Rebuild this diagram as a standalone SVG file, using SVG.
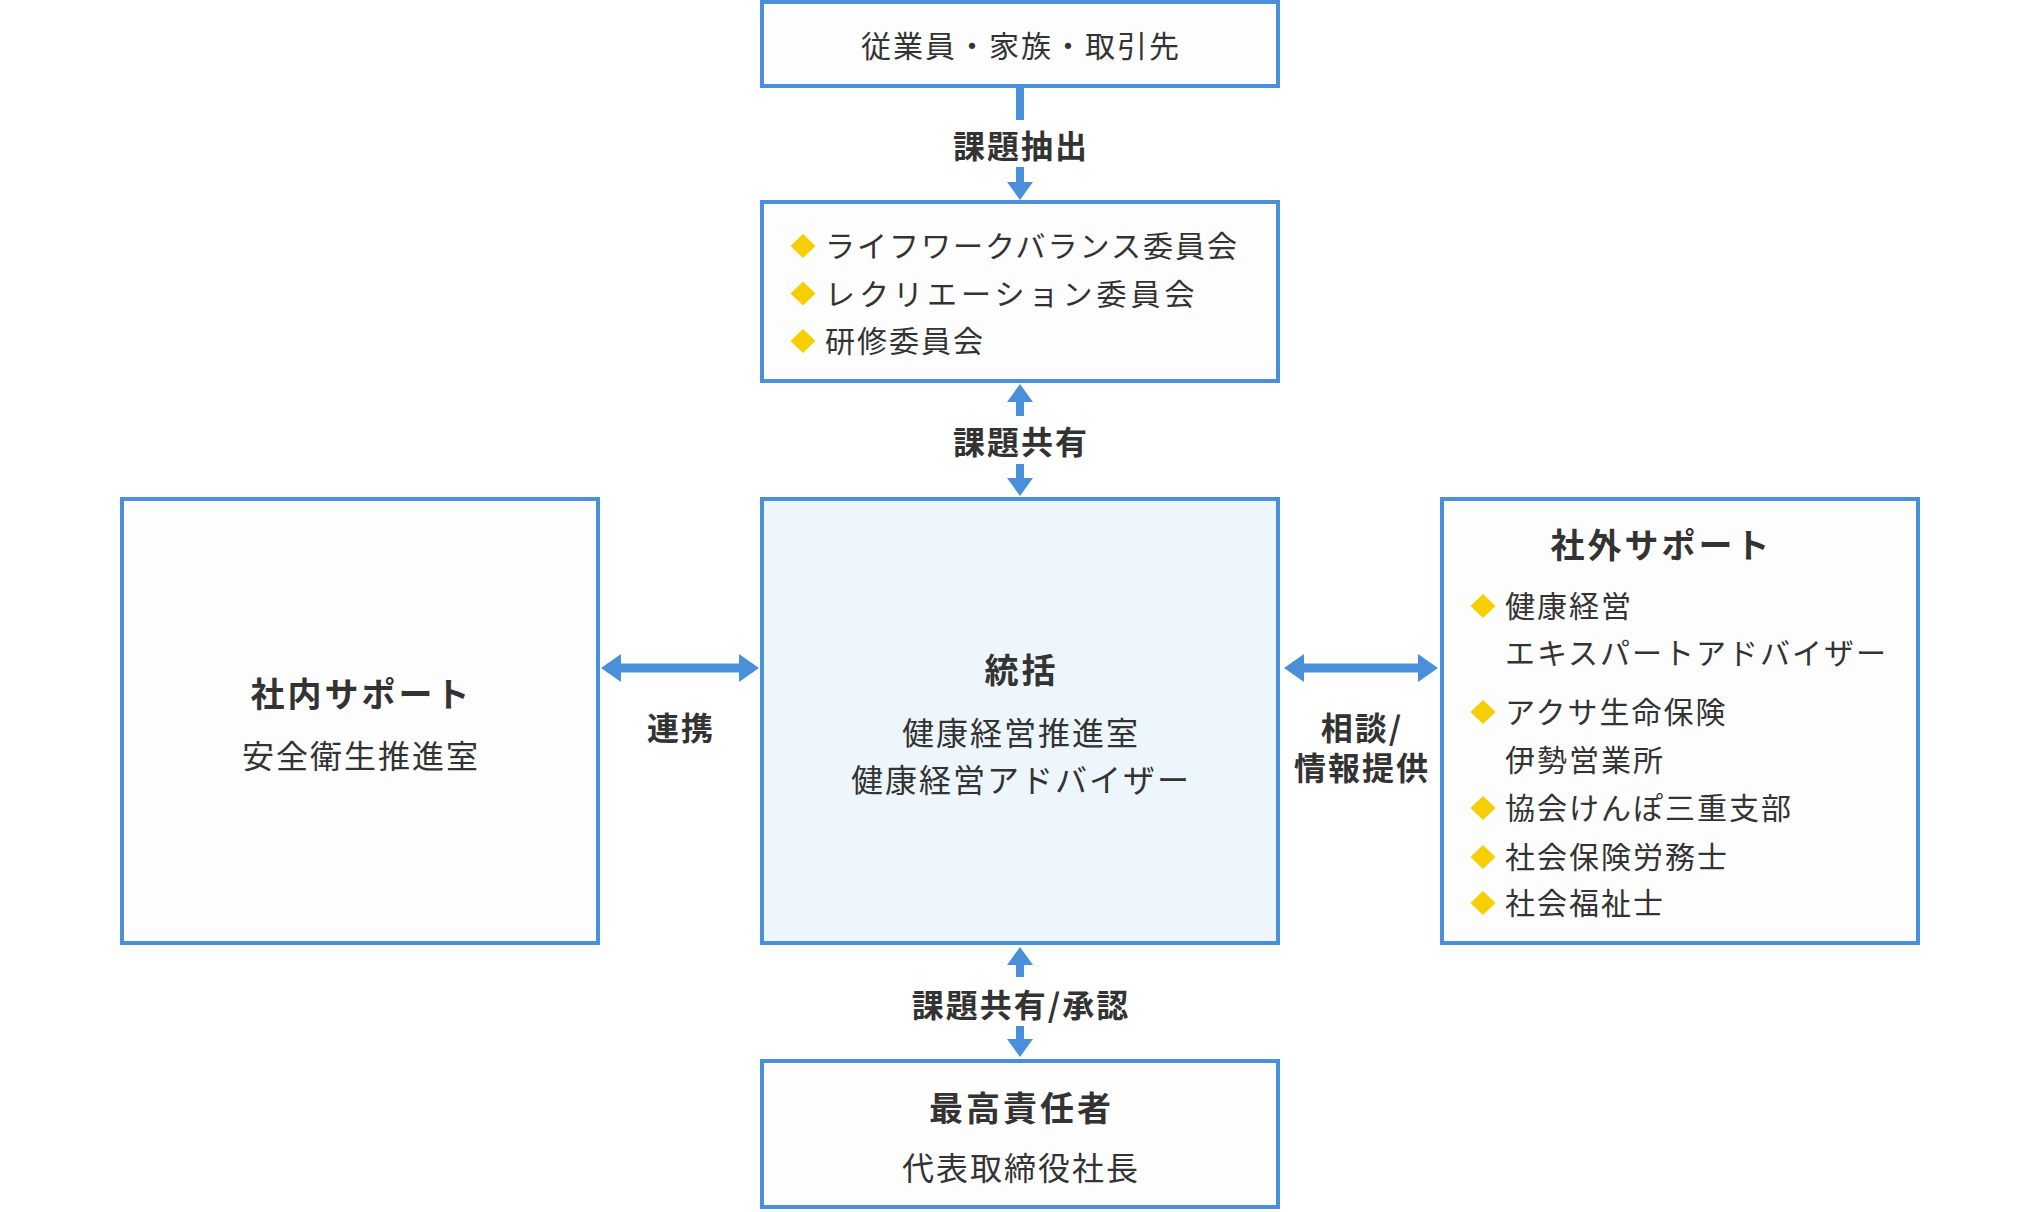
<svg xmlns="http://www.w3.org/2000/svg" width="2040" height="1212" viewBox="0 0 2040 1212">
<style>
.box{fill:#fdfdfd;stroke:#4a8fd9;stroke-width:4}
.hub{fill:#eef6fd;stroke:#4a8fd9;stroke-width:4}
.t{font-family:"Noto Sans CJK JP","Noto Sans",sans-serif;fill:#333}
.r28{font-size:30px;letter-spacing:2px}
.r30{font-size:32px;letter-spacing:2px}
.b30{font-size:32px;font-weight:700;letter-spacing:2px}
.b32{font-size:34px;font-weight:700;letter-spacing:3px}
.mid{text-anchor:middle}
.dia{fill:#f5cf00}
.stem{stroke:#4a8fd9;stroke-width:8;fill:none}
.hstem{stroke:#4a8fd9;stroke-width:9;fill:none}
.head{fill:#4a8fd9}
</style>
<rect width="2040" height="1212" fill="#ffffff"/>

<g id="connectors">
  <line class="stem" x1="1020" y1="88" x2="1020" y2="120"/>
  <line class="stem" x1="1020" y1="167" x2="1020" y2="183"/>
  <polygon class="head" points="1007,182 1033,182 1020,200"/>

  <polygon class="head" points="1007,402 1033,402 1020,384"/>
  <line class="stem" x1="1020" y1="401" x2="1020" y2="416"/>
  <line class="stem" x1="1020" y1="464" x2="1020" y2="479"/>
  <polygon class="head" points="1007,478 1033,478 1020,496"/>

  <polygon class="head" points="1007,965 1033,965 1020,947"/>
  <line class="stem" x1="1020" y1="964" x2="1020" y2="977"/>
  <line class="stem" x1="1020" y1="1026" x2="1020" y2="1040"/>
  <polygon class="head" points="1007,1039 1033,1039 1020,1057"/>

  <line class="hstem" x1="620" y1="668" x2="740" y2="668"/>
  <polygon class="head" points="601,668 621,654 621,682"/>
  <polygon class="head" points="759,668 739,654 739,682"/>

  <line class="hstem" x1="1303" y1="668" x2="1419" y2="668"/>
  <polygon class="head" points="1284,668 1304,654 1304,682"/>
  <polygon class="head" points="1438,668 1418,654 1418,682"/>

  <text class="t b30 mid" x="1021" y="158">課題抽出</text>
  <text class="t b30 mid" x="1021" y="454">課題共有</text>
  <text class="t b30 mid" x="681" y="740">連携</text>
  <text class="t b30 mid" y="740"><tspan x="1362">相談/</tspan><tspan x="1362" dy="40">情報提供</tspan></text>
  <text class="t b30 mid" x="1021" y="1017">課題共有/承認</text>
</g>

<g id="node-stakeholders">
  <rect class="box" x="762" y="2" width="516" height="84"/>
  <text class="t r28 mid" x="1021" y="57">従業員・家族・取引先</text>
</g>

<g id="node-committees">
  <rect class="box" x="762" y="202" width="516" height="179"/>
  <polygon class="dia" points="803,234 815.5,246 803,258 790.5,246"/>
  <text class="t r28" x="825" y="257">ライフワークバランス委員会</text>
  <polygon class="dia" points="803,281.5 815.5,293.5 803,305.5 790.5,293.5"/>
  <text class="t r28" x="825" y="304.5" style="letter-spacing:4px">レクリエーション委員会</text>
  <polygon class="dia" points="803,329 815.5,341 803,353 790.5,341"/>
  <text class="t r28" x="825" y="352">研修委員会</text>
</g>

<g id="node-internal">
  <rect class="box" x="122" y="499" width="476" height="444"/>
  <text class="t b32 mid" x="361.5" y="707">社内サポート</text>
  <text class="t r30 mid" x="361" y="768">安全衛生推進室</text>
</g>

<g id="node-hub">
  <rect class="hub" x="762" y="499" width="516" height="444"/>
  <text class="t b32 mid" x="1021.5" y="683">統括</text>
  <text class="t r30 mid" x="1021" y="745">健康経営推進室</text>
  <text class="t r30 mid" x="1021" y="792">健康経営アドバイザー</text>
</g>

<g id="node-external">
  <rect class="box" x="1442" y="499" width="476" height="444"/>
  <text class="t b32 mid" x="1661.5" y="558">社外サポート</text>
  <polygon class="dia" points="1483,594 1495.5,606 1483,618 1470.5,606"/>
  <text class="t r28" x="1505" y="617">健康経営</text>
  <text class="t r28" x="1505" y="664">エキスパートアドバイザー</text>
  <polygon class="dia" points="1483,700 1495.5,712 1483,724 1470.5,712"/>
  <text class="t r28" x="1505" y="723">アクサ生命保険</text>
  <text class="t r28" x="1505" y="771">伊勢営業所</text>
  <polygon class="dia" points="1483,796 1495.5,808 1483,820 1470.5,808"/>
  <text class="t r28" x="1505" y="819">協会けんぽ三重支部</text>
  <polygon class="dia" points="1483,845 1495.5,857 1483,869 1470.5,857"/>
  <text class="t r28" x="1505" y="868">社会保険労務士</text>
  <polygon class="dia" points="1483,891 1495.5,903 1483,915 1470.5,903"/>
  <text class="t r28" x="1505" y="914">社会福祉士</text>
</g>

<g id="node-top">
  <rect class="box" x="762" y="1061" width="516" height="146"/>
  <text class="t b32 mid" x="1021.5" y="1121">最高責任者</text>
  <text class="t r30 mid" x="1021" y="1180">代表取締役社長</text>
</g>
</svg>
